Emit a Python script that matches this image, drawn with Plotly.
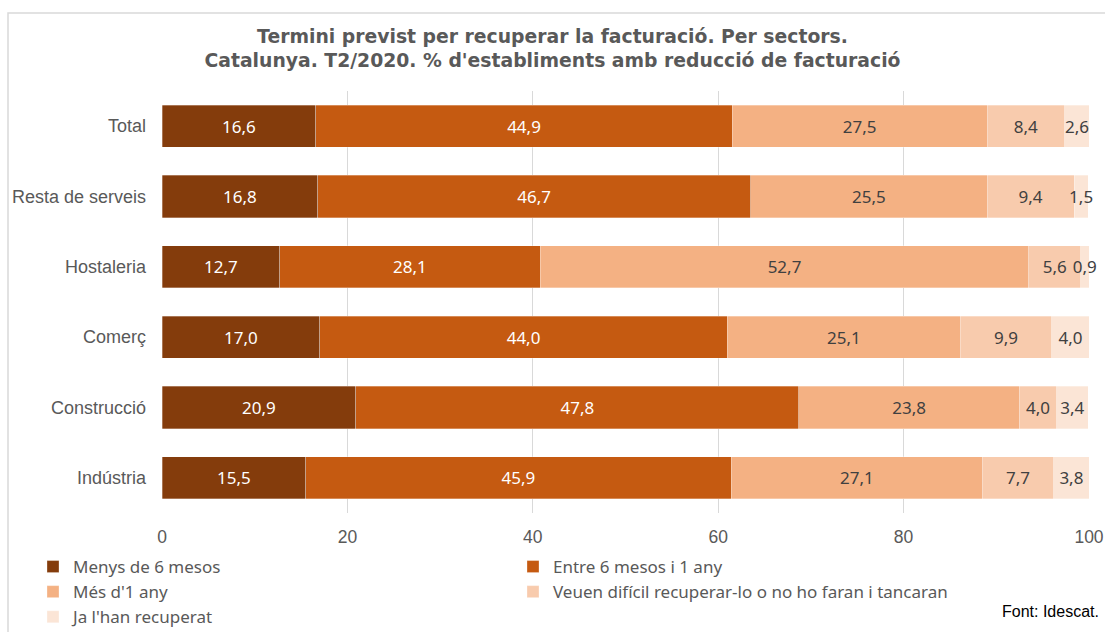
import plotly.graph_objects as go

categories = ["Total", "Resta de serveis", "Hostaleria", "Comerç", "Construcció", "Indústria"]
series_names = [
    "Menys de 6 mesos",
    "Entre 6 mesos i 1 any",
    "Més d'1 any",
    "Veuen difícil recuperar-lo o no ho faran i tancaran",
    "Ja l'han recuperat",
]
menys_6_mesos = [16.6, 16.8, 12.7, 17.0, 20.9, 15.5]
entre_6_mesos_1_any = [44.9, 46.7, 28.1, 44.0, 47.8, 45.9]
mes_1_any = [27.5, 25.5, 52.7, 25.1, 23.8, 27.1]
veuen_dificil = [8.4, 9.4, 5.6, 9.9, 4.0, 7.7]
ja_recuperat = [2.6, 1.5, 0.9, 4.0, 3.4, 3.8]
x_ticks = [0, 20, 40, 60, 80, 100]

series_values = [menys_6_mesos, entre_6_mesos_1_any, mes_1_any, veuen_dificil, ja_recuperat]
colors = ["#843C0C", "#C55A11", "#F4B183", "#F8CBAD", "#FBE5D6"]
text_colors = ["#FFFFFF", "#FFFFFF", "#404040", "#404040", "#404040"]

W, H = 1105, 632
ML, MR, MT, MB = 162, 16, 91, 119
PW, PH = W - ML - MR, H - MT - MB


def px_x(p):
    return (p - ML) / PW


def px_y(p):
    return (H - MB - p) / PH


fig = go.Figure()
for name, vals, col, tcol in zip(series_names, series_values, colors, text_colors):
    fig.add_trace(go.Bar(
        name=name,
        y=categories,
        x=vals,
        orientation="h",
        marker=dict(color=col, line=dict(color="rgba(255,255,255,0.6)", width=0.5)),
        text=[f"{v:.1f}".replace(".", ",") for v in vals],
        textposition="inside",
        insidetextanchor="middle",
        textangle=0,
        constraintext="none",
        cliponaxis=False,
        textfont=dict(family="Noto Sans", size=17, color=tcol),
        hoverinfo="skip",
    ))

fig.update_layout(
    width=W,
    height=H,
    barmode="stack",
    bargap=0.4,
    plot_bgcolor="white",
    paper_bgcolor="white",
    margin=dict(l=ML, r=MR, t=MT, b=MB, autoexpand=False),
    title=dict(
        text="Termini previst per recuperar la facturació. Per sectors.<br>Catalunya. T2/2020. % d'establiments amb reducció de facturació",
        x=0.5, xanchor="center", xref="container",
        y=1 - 43 / H, yanchor="middle", yref="container",
        font=dict(family="DejaVu Sans", size=18.8, color="#595959", weight="bold"),
    ),
    xaxis=dict(
        range=[0, 100],
        tickvals=x_ticks,
        showgrid=True,
        gridcolor="#D9D9D9",
        gridwidth=1,
        zeroline=False,
        showline=False,
        ticks="",
        ticklabelstandoff=11,
        tickfont=dict(family="Liberation Sans", size=17.5, color="#595959"),
        fixedrange=True,
    ),
    yaxis=dict(
        categoryorder="array",
        categoryarray=categories,
        autorange="reversed",
        showgrid=False,
        zeroline=False,
        showline=False,
        ticks="",
        ticklabelstandoff=15,
        tickfont=dict(family="Liberation Sans", size=18, color="#595959"),
        fixedrange=True,
    ),
    showlegend=True,
    legend=dict(
        orientation="h",
        x=px_x(43), xanchor="left",
        y=px_y(549), yanchor="top",
        entrywidth=445,
        entrywidthmode="pixels",
        indentation=-10,
        traceorder="normal",
        font=dict(family="Noto Sans", size=17, color="#595959"),
        bgcolor="rgba(0,0,0,0)",
    ),
    annotations=[
        dict(
            text="Font: Idescat.",
            xref="paper", yref="paper",
            x=px_x(1101), xanchor="right",
            y=px_y(611), yanchor="middle",
            showarrow=False,
            font=dict(family="Liberation Sans", size=16, color="#000000"),
        )
    ],
    shapes=[
        dict(
            type="rect", xref="paper", yref="paper",
            x0=px_x(8), x1=px_x(W + 20),
            y0=px_y(H + 20), y1=px_y(13),
            line=dict(color="#D9D9D9", width=1.5),
            fillcolor="rgba(0,0,0,0)",
            layer="below",
        )
    ],
)

fig.write_html(
    "out.html",
    config={"displayModeBar": False},
    post_script="document.body.style.margin='0';document.body.style.overflow='hidden';",
)
